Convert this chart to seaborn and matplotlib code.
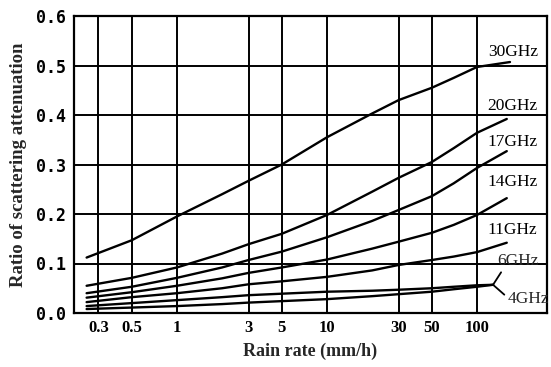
import numpy as np
import pandas as pd
import matplotlib
matplotlib.use("Agg")
import matplotlib.pyplot as plt
import seaborn as sns

# ---- data ----
rain = [0.25, 0.5, 1, 2, 3, 5, 10, 20, 30, 50, 70, 100]
ghz30 = [0.112, 0.147, 0.195, 0.240, 0.267, 0.300, 0.355, 0.403, 0.430, 0.455, 0.475, 0.497]
ghz20 = [0.055, 0.071, 0.092, 0.120, 0.139, 0.160, 0.198, 0.245, 0.273, 0.305, 0.333, 0.364]
ghz17 = [0.040, 0.053, 0.071, 0.092, 0.107, 0.124, 0.153, 0.186, 0.208, 0.236, 0.262, 0.293]
ghz14 = [0.031, 0.042, 0.055, 0.070, 0.081, 0.092, 0.108, 0.130, 0.144, 0.162, 0.178, 0.198]
ghz11 = [0.022, 0.032, 0.040, 0.050, 0.058, 0.064, 0.073, 0.086, 0.097, 0.107, 0.114, 0.123]
ghz6 = [0.014, 0.020, 0.026, 0.032, 0.036, 0.039, 0.043, 0.045, 0.047, 0.050, 0.053, 0.056]
ghz4 = [0.008, 0.011, 0.014, 0.018, 0.021, 0.024, 0.028, 0.034, 0.038, 0.043, 0.048, 0.053]
end_rain = [166, 158, 158, 158, 158, 128, 128]
end_vals = [0.507, 0.392, 0.327, 0.232, 0.142, 0.057, 0.057]
freq_labels = ["30GHz", "20GHz", "17GHz", "14GHz", "11GHz", "6GHz", "4GHz"]
x_ticks = [0.3, 0.5, 1, 3, 5, 10, 30, 50, 100]
x_ticklabels = ["0.3", "0.5", "1", "3", "5", "10", "30", "50", "100"]
y_ticks = [0.0, 0.1, 0.2, 0.3, 0.4, 0.5, 0.6]

series = [ghz30, ghz20, ghz17, ghz14, ghz11, ghz6, ghz4]
rows = []
for lab, vals, er, ev in zip(freq_labels, series, end_rain, end_vals):
    for r, v in zip(rain + [er], vals + [ev]):
        rows.append({"rain": r, "ratio": v, "freq": lab})
df = pd.DataFrame(rows)

sns.set_theme(style="white")
plt.rcParams["font.family"] = ["Liberation Serif", "DejaVu Serif"]

fig = plt.figure(figsize=(5.51, 3.67), dpi=100)
ax = fig.add_axes([74 / 551, 1 - 313 / 367, (547 - 74) / 551, (313 - 16) / 367])

sns.lineplot(data=df, x="rain", y="ratio", hue="freq", units="freq",
             estimator=None, sort=True,
             palette={f: "black" for f in freq_labels},
             linewidth=1.7, legend=False, ax=ax)

ax.set_xscale("log")
ax.set_xlim(0.206, 293)
ax.set_ylim(0, 0.6)

for xv in x_ticks:
    ax.axvline(xv, color="black", lw=1.4, zorder=0)
for yv in y_ticks[1:-1]:
    ax.axhline(yv, color="black", lw=1.4, zorder=0)

ax.set_xticks(x_ticks)
ax.set_xticklabels(x_ticklabels)
ax.xaxis.set_minor_locator(matplotlib.ticker.NullLocator())
ax.set_yticks(y_ticks)
ax.set_yticklabels([f"{v:.1f}" for v in y_ticks])
ax.tick_params(axis="both", length=0, colors="black")
ax.tick_params(axis="x", pad=5, labelsize=12)
ax.tick_params(axis="y", pad=6, labelsize=12)
for lbl in ax.get_yticklabels():
    lbl.set_fontweight("bold")
    lbl.set_family(["DejaVu Sans Mono"])
for lbl in ax.get_xticklabels():
    lbl.set_fontweight("bold")

for sp in ax.spines.values():
    sp.set_color("black")
    sp.set_linewidth(1.6)

ax.set_xlabel("Rain rate (mm/h)", fontsize=13, fontweight="bold", labelpad=5)
ax.set_ylabel("Ratio of scattering attenuation", fontsize=13.5, fontweight="bold", labelpad=6)

# curve labels
label_pos = {"30GHz": (118, 0.527), "20GHz": (118, 0.418), "17GHz": (118, 0.345),
             "14GHz": (118, 0.265), "11GHz": (118, 0.168)}
for lab, (xx, yy) in label_pos.items():
    ax.text(xx, yy, lab, fontsize=12.5, va="center", ha="left", color="black")

ax.annotate("6GHz", xy=(128, 0.057), xytext=(136, 0.105), fontsize=12.5,
            va="center", ha="left",
            arrowprops=dict(arrowstyle="-", color="black", lw=1.3,
                            shrinkA=0, shrinkB=0, relpos=(0.15, 0.0)))
ax.annotate("4GHz", xy=(128, 0.057), xytext=(160, 0.028), fontsize=12.5,
            va="center", ha="left",
            arrowprops=dict(arrowstyle="-", color="black", lw=1.3,
                            shrinkA=0, shrinkB=0, relpos=(0.0, 0.6)))

fig.savefig("out.png", dpi=100)
